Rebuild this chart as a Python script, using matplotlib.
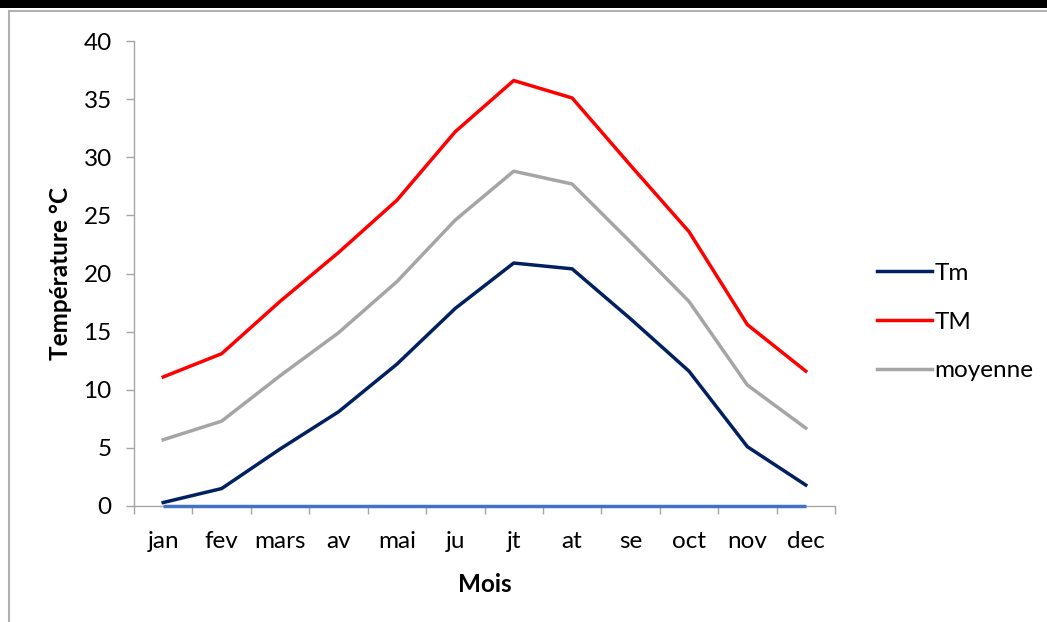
import matplotlib
matplotlib.use("Agg")
from matplotlib import pyplot as plt
from matplotlib.patches import Rectangle
from matplotlib.lines import Line2D

# monthly temperatures (°C)
mois = ['jan', 'fev', 'mars', 'av', 'mai', 'ju', 'jt', 'at', 'se', 'oct', 'nov', 'dec']
tm = [0.3, 1.5, 4.9, 8.1, 12.2, 17.0, 20.9, 20.4, 16.1, 11.6, 5.1, 1.8]
tmax = [11.1, 13.1, 17.6, 21.8, 26.3, 32.2, 36.6, 35.1, 29.3, 23.6, 15.6, 11.6]
moyenne = [5.7, 7.3, 11.2, 14.9, 19.3, 24.6, 28.8, 27.7, 22.7, 17.6, 10.4, 6.7]
base = [0, 0, 0, 0, 0, 0, 0, 0, 0, 0, 0, 0]

plt.rcParams['font.family'] = ['Lato', 'DejaVu Sans']
fs = 17.5

W, H = 1047, 622
fig = plt.figure(figsize=(W / 100, H / 100), dpi=100)
ax = fig.add_axes([134 / W, 1 - 506 / H, (835 - 134) / W, (506 - 41) / H])

x = list(range(len(mois)))
lw = 2.5
ax.plot(x, base, color='#4472C4', lw=lw, solid_capstyle='butt', zorder=5, clip_on=False)
ax.plot(x, tm, color='#002060', lw=lw, label='Tm', zorder=4)
ax.plot(x, tmax, color='#FF0000', lw=lw, label='TM', zorder=4)
ax.plot(x, moyenne, color='#A5A5A5', lw=lw, label='moyenne', zorder=4)

grey = '#A6A6A6'
ax.set_xlim(-0.5, len(mois) - 0.5)
ax.set_ylim(0, 40)
ax.set_yticks(range(0, 41, 5))
ax.set_xticks([i - 0.5 for i in range(len(mois) + 1)])
ax.set_xticklabels([])
ax.set_xticks(x, minor=True)
ax.set_xticklabels(mois, minor=True)
ax.tick_params(axis='x', which='major', length=6, width=1, color=grey, direction='out')
ax.tick_params(axis='x', which='minor', length=0, pad=18, labelsize=fs)
ax.tick_params(axis='y', length=6, width=1, color=grey, direction='out', pad=10, labelsize=fs)

for side in ['top', 'right']:
    ax.spines[side].set_visible(False)
for side in ['left', 'bottom']:
    ax.spines[side].set_color(grey)
    ax.spines[side].set_linewidth(1)

ax.set_xlabel('Mois', fontsize=fs, fontweight='bold', labelpad=15)
ax.set_ylabel('Température °C', fontsize=fs, fontweight='bold', labelpad=8)

fig.legend(loc='center left', bbox_to_anchor=(855 / W, 1 - 322 / H), frameon=False,
           fontsize=fs, handlelength=2.25, handletextpad=0.12, labelspacing=1.15)

# frame around the chart area
fig.patches.append(Rectangle((0, 1 - 8 / H), 1, 8 / H, transform=fig.transFigure,
                             facecolor='black', edgecolor='none'))
fig.lines.append(Line2D([8.5 / W, 1], [1 - 11 / H, 1 - 11 / H], transform=fig.transFigure,
                        color='#B0B0B0', lw=1.5))
fig.lines.append(Line2D([8.5 / W, 8.5 / W], [0, 1 - 11 / H], transform=fig.transFigure,
                        color='#B0B0B0', lw=1.5))

fig.savefig('out.png', dpi=100)
